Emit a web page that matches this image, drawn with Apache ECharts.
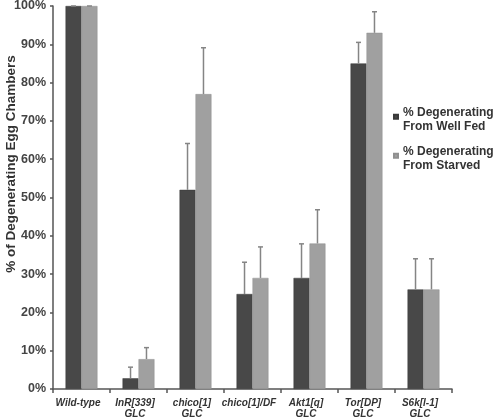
<!DOCTYPE html>
<html>
<head>
<meta charset="utf-8">
<script src="https://cdn.jsdelivr.net/npm/echarts@6/dist/echarts.min.js"></script>
<style>html,body{margin:0;padding:0;background:#fff;}#c{width:493px;height:419px;}</style>
</head>
<body>
<div id="c"></div>
<script>
const categories = ['Wild-type', 'InR[339]\nGLC', 'chico[1]\nGLC', 'chico[1]/DF', 'Akt1[q]\nGLC', 'Tor[DP]\nGLC', 'S6k[l-1]\nGLC'];
const seriesNames = ['% Degenerating\nFrom Well Fed', '% Degenerating\nFrom Starved'];
const wellFed = [100, 2.8, 52, 24.8, 29, 85, 26];
const wellFedErr = [0, 2.9, 12.1, 8.3, 8.9, 5.5, 8];
const starved = [100, 7.8, 77, 29, 38, 93, 26];
const starvedErr = [0, 3, 12.1, 8.1, 8.8, 5.5, 8];
const yTicks = [0, 10, 20, 30, 40, 50, 60, 70, 80, 90, 100];
const yAxisTitle = '% of Degenerating Egg Chambers';

const FONT = 'Liberation Sans, Arial, sans-serif';
const colors = ['#484848', '#a0a0a0'];
const BAR_FRAC = 0.28;

function errSeries(vals, errs, side) {
  return {
    type: 'custom',
    z: 5,
    silent: true,
    data: vals.map((v, i) => [i, v, v + errs[i]]),
    renderItem: function (params, api) {
      const i = api.value(0);
      const band = api.size([1, 0])[0];
      const off = side * band * BAR_FRAC / 2;
      const p0 = api.coord([i, api.value(1)]);
      const p1 = api.coord([i, api.value(2)]);
      const x = p0[0] + off;
      const style = { stroke: '#858585', lineWidth: 1.5 };
      return {
        type: 'group',
        children: [
          { type: 'line', shape: { x1: x, y1: p0[1], x2: x, y2: p1[1] }, style: style },
          { type: 'line', shape: { x1: x - 2.5, y1: p1[1], x2: x + 2.5, y2: p1[1] }, style: style }
        ]
      };
    }
  };
}

const chart = echarts.init(document.getElementById('c'));
chart.setOption({
  animation: false,
  color: colors,
  grid: { left: 53, right: 41, top: 6, bottom: 30, containLabel: false, outerBoundsMode: 'none' },
  graphic: [{
    type: 'text',
    x: 11,
    y: 164,
    rotation: Math.PI / 2,
    style: {
      text: yAxisTitle,
      font: 'bold 13.5px ' + FONT,
      fill: '#333',
      align: 'center',
      verticalAlign: 'middle'
    }
  }],
  legend: {
    orient: 'vertical',
    left: 393,
    top: 106,
    padding: 0,
    icon: 'path://M0,0L10,0L10,10L0,10Z M0,26L0.01,26',
    itemWidth: 4,
    itemHeight: 10.4,
    itemGap: 11,
    data: seriesNames,
    textStyle: { fontFamily: FONT, fontWeight: 'bold', fontSize: 12, color: '#333', lineHeight: 14 }
  },
  xAxis: {
    type: 'category',
    data: categories,
    axisLine: { lineStyle: { color: '#555', width: 1.5 } },
    axisTick: { show: true, length: 4, alignWithLabel: false, lineStyle: { color: '#555', width: 1.5 } },
    axisLabel: { fontFamily: FONT, fontWeight: 'bold', fontStyle: 'italic', fontSize: 10, color: '#333', lineHeight: 11.5, margin: 8, interval: 0, padding: [0, 7, 0, 0] }
  },
  yAxis: {
    type: 'value',
    min: 0,
    max: 100,
    interval: 10,
    axisLine: { show: true, lineStyle: { color: '#555', width: 1.5 } },
    axisTick: { show: true, length: 3, lineStyle: { color: '#555', width: 1.5 } },
    splitLine: { show: false },
    axisLabel: {
      fontFamily: FONT, fontWeight: 'bold', fontSize: 12.5, color: '#444', margin: 7,
      formatter: function (v) { return yTicks.indexOf(v) >= 0 ? v + '%' : ''; }
    }
  },
  series: [
    { name: seriesNames[0], type: 'bar', data: wellFed, barWidth: (BAR_FRAC * 100) + '%', barGap: '0%',
      itemStyle: { color: colors[0], borderColor: '#3a3a3a', borderWidth: 0.5 } },
    { name: seriesNames[1], type: 'bar', data: starved, barWidth: (BAR_FRAC * 100) + '%', barGap: '0%',
      itemStyle: { color: colors[1], borderColor: '#909090', borderWidth: 0.5 } },
    errSeries(wellFed, wellFedErr, -1),
    errSeries(starved, starvedErr, 1)
  ]
});
</script>
</body>
</html>
